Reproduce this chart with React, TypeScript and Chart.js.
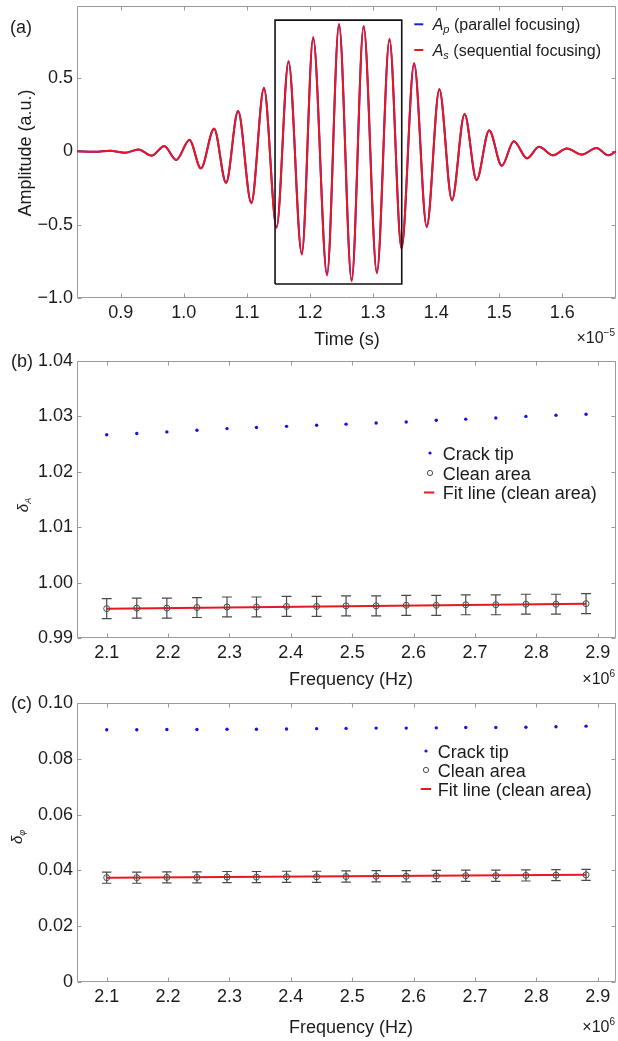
import React, { useEffect, useRef } from "react";
import { Chart, registerables } from "chart.js";

Chart.register(...registerables);

const FONT = '"Liberation Sans", Arial, Helvetica, sans-serif';
const TEXT = "#1c1c1c";
const FRAME = "#9a9a9a";
const RED = "rgb(236, 22, 30)";
const BLUE = "rgb(30, 30, 215)";
const DOT_BLUE = "rgb(20, 20, 230)";
const GRAY = "#4a4a4a";

// ---------------- Panel (a): waveform ----------------
const TIME_A = [
  0.831, 0.859, 0.883, 0.907, 0.928, 0.949, 0.969, 0.988, 1.009, 1.027, 1.048,
  1.067, 1.086, 1.107, 1.127, 1.147, 1.166, 1.187, 1.205, 1.227, 1.246, 1.266,
  1.285, 1.306, 1.326, 1.345, 1.365, 1.385, 1.405, 1.425, 1.445, 1.464, 1.484,
  1.504, 1.523, 1.544, 1.563, 1.585, 1.607, 1.631, 1.654, 1.673, 1.685,
];
const AMP_S = [
  0.0, -0.003, 0.004, -0.01, 0.012, -0.03, 0.036, -0.06, 0.079, -0.118, 0.155,
  -0.217, 0.276, -0.355, 0.433, -0.522, 0.616, -0.704, 0.778, -0.847, 0.869,
  -0.886, 0.855, -0.832, 0.766, -0.666, 0.601, -0.517, 0.424, -0.335, 0.256,
  -0.197, 0.144, -0.099, 0.069, -0.049, 0.03, -0.028, 0.019, -0.023, 0.023,
  -0.028, 0.0,
];
const AMP_P = [
  0.0, -0.003, 0.004, -0.01, 0.012, -0.029, 0.035, -0.059, 0.077, -0.116, 0.152,
  -0.213, 0.272, -0.35, 0.427, -0.515, 0.608, -0.695, 0.768, -0.836, 0.858,
  -0.875, 0.845, -0.822, 0.757, -0.658, 0.594, -0.511, 0.419, -0.331, 0.253,
  -0.195, 0.142, -0.098, 0.068, -0.048, 0.03, -0.027, 0.019, -0.022, 0.022,
  -0.027, 0.0,
];
const BOX_TIME = [1.1446, 1.3454];
const BOX_AMP = [-0.905, 0.894];
const A_X_RANGE = [0.8307, 1.685];
const A_Y_RANGE = [-1.0, 0.99];
const A_X_TICKS = [0.9, 1.0, 1.1, 1.2, 1.3, 1.4, 1.5, 1.6];
const A_X_LABELS = ["0.9", "1.0", "1.1", "1.2", "1.3", "1.4", "1.5", "1.6"];
const A_Y_TICKS = [-1.0, -0.5, 0, 0.5];
const A_Y_LABELS = ["\u22121.0", "\u22120.5", "0", "0.5"];

// ---------------- Panels (b), (c) ----------------
const FREQ = [
  2.1, 2.149, 2.198, 2.247, 2.296, 2.344, 2.393, 2.442, 2.49, 2.539, 2.588,
  2.637, 2.685, 2.734, 2.783, 2.832, 2.881,
];
const CRACK_A = [
  1.0267, 1.0269, 1.0272, 1.0275, 1.0278, 1.028, 1.0282, 1.0284, 1.0286, 1.0288,
  1.029, 1.0293, 1.0295, 1.0297, 1.03, 1.0302, 1.0304,
];
const CLEAN_A = [
  0.9953, 0.9954, 0.9954, 0.9955, 0.9956, 0.9956, 0.9957, 0.9957, 0.9958,
  0.9958, 0.9959, 0.9959, 0.996, 0.996, 0.9961, 0.9961, 0.9962,
];
const ERR_A = [
  0.0018, 0.0018, 0.0018, 0.0018, 0.0018, 0.0018, 0.0018, 0.0018, 0.0018,
  0.0018, 0.0018, 0.0018, 0.0018, 0.0018, 0.0018, 0.0018, 0.0018,
];
const FIT_FREQ = [2.1, 2.881];
const FIT_A = [0.9953, 0.9962];

const CRACK_PHI = [
  0.0904, 0.0904, 0.0905, 0.0905, 0.0906, 0.0906, 0.0907, 0.0908, 0.0909, 0.091,
  0.091, 0.0911, 0.0912, 0.0912, 0.0913, 0.0915, 0.0917,
];
const CLEAN_PHI = [
  0.0374, 0.0374, 0.0375, 0.0375, 0.0376, 0.0376, 0.0377, 0.0377, 0.0378,
  0.0379, 0.0379, 0.038, 0.0381, 0.0381, 0.0382, 0.0383, 0.0384,
];
const ERR_PHI = [
  0.002, 0.002, 0.002, 0.002, 0.002, 0.002, 0.002, 0.002, 0.002, 0.002, 0.002,
  0.002, 0.002, 0.002, 0.002, 0.002, 0.002,
];
const FIT_PHI = [0.0374, 0.0384];

const F_X_RANGE = [2.0516, 2.9298];
const F_X_TICKS = [2.1, 2.2, 2.3, 2.4, 2.5, 2.6, 2.7, 2.8, 2.9];
const F_X_LABELS = ["2.1", "2.2", "2.3", "2.4", "2.5", "2.6", "2.7", "2.8", "2.9"];
const B_Y_RANGE = [0.99, 1.04];
const B_Y_TICKS = [0.99, 1.0, 1.01, 1.02, 1.03, 1.04];
const B_Y_LABELS = ["0.99", "1.00", "1.01", "1.02", "1.03", "1.04"];
const C_Y_RANGE = [0, 0.1];
const C_Y_TICKS = [0, 0.02, 0.04, 0.06, 0.08, 0.1];
const C_Y_LABELS = ["0", "0.02", "0.04", "0.06", "0.08", "0.10"];

const LEGEND_CRACK = "Crack tip";
const LEGEND_CLEAN = "Clean area";
const LEGEND_FIT = "Fit line (clean area)";

// ---------------- helpers ----------------
type Seg = { t: string; size: number; italic?: boolean; dy?: number };

function fnt(size: number, italic?: boolean) {
  return `${italic ? "italic " : ""}${size}px ${FONT}`;
}
function richWidth(ctx: CanvasRenderingContext2D, segs: Seg[]) {
  let w = 0;
  for (const s of segs) {
    ctx.font = fnt(s.size, s.italic);
    w += ctx.measureText(s.t).width;
  }
  return w;
}
function drawRich(
  ctx: CanvasRenderingContext2D,
  x: number,
  y: number,
  segs: Seg[],
  align: "left" | "center" | "right" = "left"
) {
  const w = richWidth(ctx, segs);
  let cx = align === "center" ? x - w / 2 : align === "right" ? x - w : x;
  ctx.textAlign = "left";
  ctx.textBaseline = "alphabetic";
  for (const s of segs) {
    ctx.font = fnt(s.size, s.italic);
    ctx.fillText(s.t, cx, y + (s.dy || 0));
    cx += ctx.measureText(s.t).width;
  }
}
function drawRotated(ctx: CanvasRenderingContext2D, x: number, y: number, segs: Seg[]) {
  ctx.save();
  ctx.translate(x, y);
  ctx.rotate(-Math.PI / 2);
  drawRich(ctx, 0, 0, segs, "center");
  ctx.restore();
}

const framePlugin = {
  id: "frameTicks",
  beforeDatasetsDraw(chart: any) {
    const { ctx, chartArea, scales } = chart;
    const l = Math.round(chartArea.left) + 0.5;
    const r = Math.round(chartArea.right) - 0.5;
    const t = Math.round(chartArea.top) + 0.5;
    const b = Math.round(chartArea.bottom) - 0.5;
    ctx.save();
    ctx.strokeStyle = FRAME;
    ctx.lineWidth = 1;
    ctx.beginPath();
    ctx.rect(l, t, r - l, b - t);
    const L = 4;
    for (const tk of scales.x.ticks) {
      const px = Math.round(scales.x.getPixelForValue(tk.value)) + 0.5;
      ctx.moveTo(px, b);
      ctx.lineTo(px, b - L);
      ctx.moveTo(px, t);
      ctx.lineTo(px, t + L);
    }
    for (const tk of scales.y.ticks) {
      const py = Math.round(scales.y.getPixelForValue(tk.value)) + 0.5;
      ctx.moveTo(l, py);
      ctx.lineTo(l + L, py);
      ctx.moveTo(r, py);
      ctx.lineTo(r - L, py);
    }
    ctx.stroke();
    ctx.restore();
  },
};

function annotate(id: string, draw: (ctx: CanvasRenderingContext2D, chart: any) => void) {
  return {
    id,
    afterDraw(chart: any) {
      const ctx = chart.ctx as CanvasRenderingContext2D;
      ctx.save();
      ctx.fillStyle = TEXT;
      draw(ctx, chart);
      ctx.restore();
    },
  };
}

function errorBars(id: string, xs: number[], ys: number[], errs: number[], cap: number) {
  return {
    id,
    afterDatasetsDraw(chart: any) {
      const { ctx, scales } = chart;
      ctx.save();
      ctx.strokeStyle = GRAY;
      ctx.lineWidth = 1.2;
      ctx.beginPath();
      xs.forEach((xv, i) => {
        const px = scales.x.getPixelForValue(xv);
        const top = scales.y.getPixelForValue(ys[i] + errs[i]);
        const bot = scales.y.getPixelForValue(ys[i] - errs[i]);
        ctx.moveTo(px, top);
        ctx.lineTo(px, bot);
        ctx.moveTo(px - cap, top);
        ctx.lineTo(px + cap, top);
        ctx.moveTo(px - cap, bot);
        ctx.lineTo(px + cap, bot);
      });
      ctx.stroke();
      ctx.restore();
    },
  };
}

function pts(xs: number[], ys: number[]) {
  return xs.map((x, i) => ({ x, y: ys[i] }));
}

function axes(
  xRange: number[],
  yRange: number[],
  xTicks: number[],
  xLabels: string[],
  yTicks: number[],
  yLabels: string[],
  xHeight: number
) {
  const tickFont = { family: FONT, size: 18 };
  return {
    x: {
      type: "linear",
      min: xRange[0],
      max: xRange[1],
      grid: { display: false, drawTicks: false },
      border: { display: false },
      ticks: {
        font: tickFont,
        color: TEXT,
        padding: 4,
        maxRotation: 0,
        autoSkip: false,
        callback: (v: number) => {
          const i = xTicks.findIndex((t) => Math.abs(t - v) < 1e-9);
          return i >= 0 ? xLabels[i] : "";
        },
      },
      afterBuildTicks: (s: any) => {
        s.ticks = xTicks.map((v) => ({ value: v }));
      },
      afterFit: (s: any) => {
        s.height = xHeight;
        s.paddingLeft = 0;
        s.paddingRight = 0;
      },
    },
    y: {
      type: "linear",
      min: yRange[0],
      max: yRange[1],
      grid: { display: false, drawTicks: false },
      border: { display: false },
      ticks: {
        font: tickFont,
        color: TEXT,
        padding: 4,
        autoSkip: false,
        callback: (v: number) => {
          const i = yTicks.findIndex((t) => Math.abs(t - v) < 1e-9);
          return i >= 0 ? yLabels[i] : "";
        },
      },
      afterBuildTicks: (s: any) => {
        s.ticks = yTicks.map((v) => ({ value: v }));
      },
      afterFit: (s: any) => {
        s.width = 77;
        s.paddingTop = 0;
        s.paddingBottom = 0;
      },
    },
  };
}

function baseOptions(scales: any, padTop: number) {
  return {
    responsive: false,
    animation: false,
    events: [],
    layout: { autoPadding: false, padding: { top: padTop, right: 2, left: 0, bottom: 0 } },
    plugins: { legend: { display: false }, tooltip: { enabled: false } },
    scales,
  };
}

// ---------------- chart configs ----------------
function configA(): any {
  const boxPts = [
    { x: BOX_TIME[0], y: BOX_AMP[0] },
    { x: BOX_TIME[1], y: BOX_AMP[0] },
    { x: BOX_TIME[1], y: BOX_AMP[1] },
    { x: BOX_TIME[0], y: BOX_AMP[1] },
    { x: BOX_TIME[0], y: BOX_AMP[0] },
  ];
  return {
    type: "line",
    data: {
      datasets: [
        {
          data: boxPts,
          borderColor: "#111",
          borderWidth: 1.6,
          pointRadius: 0,
          tension: 0,
          order: -1,
        },
        {
          data: pts(TIME_A, AMP_S),
          borderColor: RED,
          borderWidth: 2,
          pointRadius: 0,
          cubicInterpolationMode: "monotone",
          order: 0,
        },
        {
          data: pts(TIME_A, AMP_P),
          borderColor: BLUE,
          borderWidth: 2,
          pointRadius: 0,
          cubicInterpolationMode: "monotone",
          order: 1,
        },
      ],
    },
    options: baseOptions(
      axes(A_X_RANGE, A_Y_RANGE, A_X_TICKS, A_X_LABELS, A_Y_TICKS, A_Y_LABELS, 52),
      6
    ),
    plugins: [
      framePlugin,
      annotate("annA", (ctx) => {
        drawRich(ctx, 10, 33, [{ t: "(a)", size: 18 }]);
        drawRotated(ctx, 31, 153, [{ t: "Amplitude (a.u.)", size: 18 }]);
        drawRich(ctx, 347, 345, [{ t: "Time (s)", size: 18 }], "center");
        drawRich(
          ctx,
          615,
          343,
          [
            { t: "\u00d710", size: 16 },
            { t: "\u22125", size: 10, dy: -7 },
          ],
          "right"
        );
        // legend
        const rows = [
          { y: 24.3, color: BLUE, sub: "p", txt: " (parallel focusing)" },
          { y: 50, color: RED, sub: "s", txt: " (sequential focusing)" },
        ];
        for (const r of rows) {
          ctx.strokeStyle = r.color;
          ctx.lineWidth = 2;
          ctx.beginPath();
          ctx.moveTo(414.3, r.y);
          ctx.lineTo(423.3, r.y);
          ctx.stroke();
          drawRich(ctx, 432.7, r.y + 5.5, [
            { t: "A", size: 16, italic: true },
            { t: r.sub, size: 11, italic: true, dy: 3 },
            { t: r.txt, size: 16 },
          ]);
        }
      }),
    ],
  };
}

function configFreq(
  crack: number[],
  clean: number[],
  errs: number[],
  fit: number[],
  yRange: number[],
  yTicks: number[],
  yLabels: string[],
  padTop: number,
  xHeight: number,
  draw: (ctx: CanvasRenderingContext2D) => void,
  cap: number
): any {
  return {
    type: "line",
    data: {
      datasets: [
        {
          data: pts(FREQ, clean),
          showLine: false,
          pointRadius: 3,
          pointStyle: "circle",
          pointBorderColor: GRAY,
          pointBackgroundColor: "rgba(0,0,0,0)",
          pointBorderWidth: 1,
          order: 0,
        },
        {
          data: pts(FIT_FREQ, fit),
          borderColor: RED,
          borderWidth: 2,
          pointRadius: 0,
          tension: 0,
          order: 1,
        },
        {
          data: pts(FREQ, crack),
          showLine: false,
          pointRadius: 1.7,
          pointBorderWidth: 0,
          pointBackgroundColor: DOT_BLUE,
          pointBorderColor: DOT_BLUE,
          order: 2,
        },
      ],
    },
    options: baseOptions(
      axes(F_X_RANGE, yRange, F_X_TICKS, F_X_LABELS, yTicks, yLabels, xHeight),
      padTop
    ),
    plugins: [framePlugin, errorBars("eb" + padTop, FREQ, clean, errs, cap), annotate("ann" + padTop, draw)],
  };
}

function drawFreqLegend(
  ctx: CanvasRenderingContext2D,
  mx: number,
  tx: number,
  ys: number[],
  lineX: number[]
) {
  ctx.fillStyle = DOT_BLUE;
  ctx.beginPath();
  ctx.arc(mx, ys[0], 1.6, 0, Math.PI * 2);
  ctx.fill();
  ctx.strokeStyle = GRAY;
  ctx.lineWidth = 1;
  ctx.beginPath();
  ctx.arc(mx, ys[1], 2.6, 0, Math.PI * 2);
  ctx.stroke();
  ctx.strokeStyle = RED;
  ctx.lineWidth = 2;
  ctx.beginPath();
  ctx.moveTo(lineX[0], ys[2]);
  ctx.lineTo(lineX[1], ys[2]);
  ctx.stroke();
  ctx.fillStyle = TEXT;
  drawRich(ctx, tx, ys[0] + 6.5, [{ t: LEGEND_CRACK, size: 18 }]);
  drawRich(ctx, tx, ys[1] + 6.5, [{ t: LEGEND_CLEAN, size: 18 }]);
  drawRich(ctx, tx, ys[2] + 6.5, [{ t: LEGEND_FIT, size: 18 }]);
}

function configB(): any {
  return configFreq(
    CRACK_A,
    CLEAN_A,
    ERR_A,
    FIT_A,
    B_Y_RANGE,
    B_Y_TICKS,
    B_Y_LABELS,
    11,
    52,
    (ctx) => {
      drawRich(ctx, 11, 17, [{ t: "(b)", size: 18 }]);
      drawRotated(ctx, 28, 155, [
        { t: "\u03b4", size: 15, italic: true },
        { t: "A", size: 9, italic: true, dy: 3 },
      ]);
      drawRich(ctx, 351, 335, [{ t: "Frequency (Hz)", size: 18 }], "center");
      drawRich(
        ctx,
        615,
        334,
        [
          { t: "\u00d710", size: 16 },
          { t: "6", size: 10, dy: -7 },
        ],
        "right"
      );
      drawFreqLegend(ctx, 430, 442.7, [103, 123, 142.5], [424, 434.3]);
    },
    5
  );
}

function configC(): any {
  return configFreq(
    CRACK_PHI,
    CLEAN_PHI,
    ERR_PHI,
    FIT_PHI,
    C_Y_RANGE,
    C_Y_TICKS,
    C_Y_LABELS,
    13,
    59,
    (ctx) => {
      drawRich(ctx, 11, 19, [{ t: "(c)", size: 18 }]);
      drawRotated(ctx, 21.7, 147, [
        { t: "\u03b4", size: 15, italic: true },
        { t: "\u03c6", size: 9, italic: true, dy: 3 },
      ]);
      drawRich(ctx, 351, 343, [{ t: "Frequency (Hz)", size: 18 }], "center");
      drawRich(
        ctx,
        615,
        342,
        [
          { t: "\u00d710", size: 16 },
          { t: "6", size: 10, dy: -7 },
        ],
        "right"
      );
      drawFreqLegend(ctx, 426, 437.7, [61, 80, 99], [420.7, 431]);
    },
    4.7
  );
}

function ChartCanvas({ top, height, make }: { top: number; height: number; make: () => any }) {
  const ref = useRef<HTMLCanvasElement | null>(null);
  useEffect(() => {
    if (!ref.current) return;
    const chart = new Chart(ref.current, make());
    return () => chart.destroy();
  }, []);
  return (
    <canvas
      ref={ref}
      width={618}
      height={height}
      style={{ position: "absolute", left: 0, top, width: 618, height, display: "block" }}
    />
  );
}

export default function App() {
  return (
    <div
      style={{
        position: "absolute",
        left: 0,
        top: 0,
        width: 618,
        height: 1041,
        background: "#ffffff",
        overflow: "hidden",
      }}
    >
      <ChartCanvas top={0} height={350} make={configA} />
      <ChartCanvas top={350} height={340} make={configB} />
      <ChartCanvas top={690} height={351} make={configC} />
    </div>
  );
}
